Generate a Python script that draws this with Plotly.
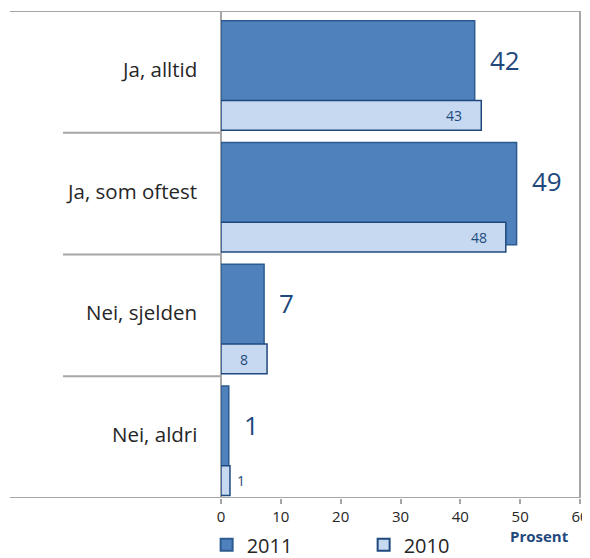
import plotly.graph_objects as go

categories = ["Ja, alltid", "Ja, som oftest", "Nei, sjelden", "Nei, aldri"]
values_2011 = [42.4, 49.4, 7.2, 1.3]
values_2010 = [43.5, 47.6, 7.7, 1.5]
labels_2011 = ["42", "49", "7", "1"]
labels_2010 = ["43", "48", "8", "1"]
x_ticks = [0, 10, 20, 30, 40, 50, 60]

DARK = "#1F497D"
GRID = "#A6A6A6"
FONT = "Open Sans"

fig = go.Figure()
fig.add_trace(go.Bar(
    y=categories, x=values_2011, orientation="h", name="2011",
    width=0.84, offset=-0.42,
    marker=dict(color="#4F81BD", line=dict(color="#2C5B8F", width=1.5)),
))
fig.add_trace(go.Bar(
    y=categories, x=values_2010, orientation="h", name="2010",
    width=0.245, offset=0.235,
    marker=dict(color="#C6D9F1", line=dict(color=DARK, width=1.5)),
))

ann = []
for i, c in enumerate(categories):
    ann.append(dict(x=0, xref="paper", y=i, yref="y", text=c, showarrow=False,
                    xanchor="right", xshift=-22, yshift=3,
                    font=dict(family=FONT, size=20.5, color="#262626")))
    ann.append(dict(x=values_2011[i], y=i - 0.1, xref="x", yref="y", text=labels_2011[i],
                    showarrow=False, xanchor="left", xshift=13,
                    font=dict(family=FONT, size=26, color=DARK)))
    v = values_2010[i]
    if v > 5:
        ann.append(dict(x=v, y=i + 0.36, xref="x", yref="y", text=labels_2010[i],
                        showarrow=False, xanchor="right", xshift=-17,
                        font=dict(family=FONT, size=14, color=DARK)))
    else:
        ann.append(dict(x=v, y=i + 0.36, xref="x", yref="y", text=labels_2010[i],
                        showarrow=False, xanchor="left", xshift=5,
                        font=dict(family=FONT, size=14, color=DARK)))

ann.append(dict(x=1, xref="paper", y=0, yref="paper", yshift=-38, xshift=-9,
                text="<b>Prosent</b>", showarrow=False, xanchor="right", yanchor="middle",
                font=dict(family=FONT, size=15, color=DARK)))

shapes = []
for k, y0 in enumerate([-0.5, 0.5, 1.5, 2.5, 3.5]):
    x0 = -0.588 if k in (0, 4) else -0.44
    x1 = 1 if k in (0, 4) else 0
    shapes.append(dict(type="line", xref="paper", yref="y", x0=x0, x1=x1, y0=y0, y1=y0,
                       line=dict(color=GRID, width=2), layer="below"))
for xp in [0, 1]:
    shapes.append(dict(type="line", xref="paper", yref="y", x0=xp, x1=xp, y0=-0.5, y1=3.5,
                       line=dict(color=GRID, width=2), layer="below"))

fig.update_layout(
    width=582, height=550,
    margin=dict(l=213, r=10, t=3, b=60, autoexpand=False),
    barmode="overlay",
    plot_bgcolor="white", paper_bgcolor="white",
    font=dict(family=FONT, color="#262626"),
    showlegend=True,
    legend=dict(orientation="h", x=-0.04, xanchor="left", y=-0.096, yanchor="middle",
                traceorder="normal", entrywidth=112, entrywidthmode="pixels",
                bgcolor="rgba(0,0,0,0)",
                font=dict(family=FONT, size=20, color="#262626"),
                itemsizing="constant"),
    annotations=ann,
    shapes=shapes,
)
fig.update_xaxes(range=[0, 60], tickvals=x_ticks, ticks="outside", ticklen=5,
                 tickcolor=GRID, tickwidth=2, showgrid=False, zeroline=False,
                 showline=False, automargin=False, ticklabelstandoff=0,
                 tickfont=dict(family=FONT, size=15, color="#262626"))
fig.update_yaxes(categoryorder="array", categoryarray=categories, range=[3.5, -0.5],
                 showticklabels=False, showgrid=False, zeroline=False, showline=False,
                 automargin=False)

fig.write_html("out.html")
